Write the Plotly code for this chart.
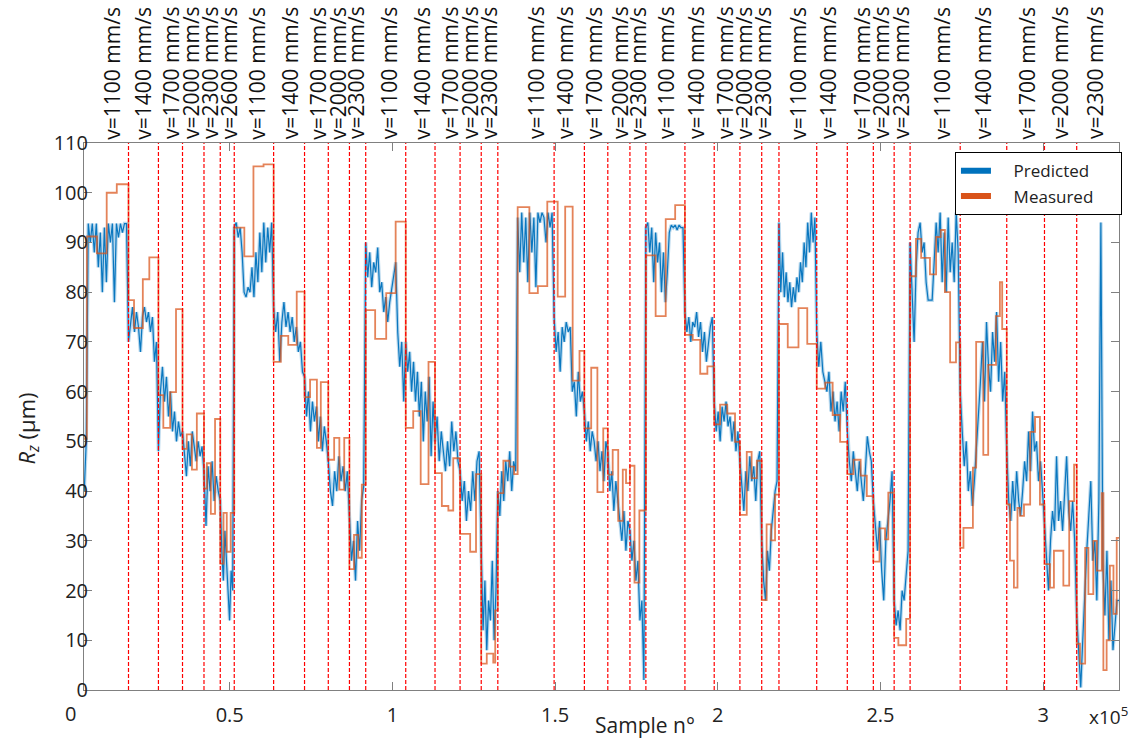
import numpy as np
import plotly.graph_objects as go

# ---------------- data (sample index, Rz in µm) ----------------
segment_edges = [5300, 18900, 28100, 35500, 42100, 47100, 51400, 63500, 73000, 80300, 86800,
                 91800, 104100, 113100, 120800, 127300, 132400, 138500, 149700, 159000, 166200,
                 173000, 177900, 189900, 198900, 206800, 213500, 218800, 230400, 239800, 247800,
                 254200, 259100, 274500, 288800, 300400, 310300, 323300]

speed_change_x = [18900, 28100, 35500, 42100, 47100, 51400, 63500, 73000, 80300, 86800, 91800,
                  104100, 113100, 120800, 127300, 132400, 149700, 159000, 166200, 173000, 177900,
                  189900, 198900, 206800, 213500, 218800, 230400, 239800, 247800, 254200, 259100,
                  274500, 288800, 300400, 310300]

speed_labels = (["v=1100 mm/s", "v=1400 mm/s", "v=1700 mm/s", "v=2000 mm/s", "v=2300 mm/s", "v=2600 mm/s"]
                + ["v=1100 mm/s", "v=1400 mm/s", "v=1700 mm/s", "v=2000 mm/s", "v=2300 mm/s"] * 6)
label_x = [13770, 23290, 31990, 38140, 43980, 49600, 58330, 68340, 77070, 83220, 88840,
           98770, 109030, 117730, 123870, 129500, 144150, 153070, 161760, 169970, 175410,
           184100, 193320, 202230, 207860, 214000, 224580, 233890, 244240, 250170, 256320,
           268830, 281610, 294950, 305180, 315940]

# Predicted Rz, values read along each segment
pred_group1 = [
    [40, 50, 93.8, 90, 93.8, 88, 93.8, 85, 92, 80, 93, 82, 93.8, 90, 93.8, 78, 93.8, 91, 93.8, 92, 93.8, 93.8],
    [70, 74, 77, 72, 76, 73, 68, 75, 77, 74, 76, 72, 75, 66, 70],
    [48, 60, 65, 58, 63, 55, 60, 52, 56, 50, 54, 51],
    [52, 48, 43, 50, 45, 52, 49, 46, 50, 47, 49],
    [44, 33, 45, 40, 46, 38, 43, 40],
    [38, 28, 22, 32, 26, 18, 14, 24, 20],
]
pred_group2 = [
    [93, 94, 91, 93, 88, 80, 79, 81, 80, 85, 79, 88, 82, 92, 84, 94, 86, 93, 88, 94],
    [77, 72, 76, 66, 74, 78, 73, 76, 72, 75, 70, 73, 68, 70, 64],
    [63, 55, 60, 52, 58, 54, 57, 50, 55, 48, 53, 50],
    [46, 40, 37, 44, 40, 47, 42, 45, 40, 44],
    [36, 26, 30, 22, 34, 28, 38, 41],
]
pred_group3 = [
    [90, 83, 88, 81, 86, 84, 89, 80, 82, 76, 79, 74, 78, 81, 84, 86, 72, 65, 70, 58],
    [70, 64, 68, 60, 66, 58, 64, 55, 62, 50, 60, 54, 63, 47, 58],
    [50, 55, 46, 52, 48, 44, 50, 45, 54, 48, 52, 46],
    [44, 38, 42, 34, 40, 36, 44, 38, 46, 48],
    [28, 12, 22, 8, 18, 14, 26, 10, 20],
]
pred_group4 = [
    [40, 35, 44, 38, 46, 42, 48, 40, 46, 44],
    [95, 84, 96, 86, 95, 82, 96, 88, 95, 81, 96, 94, 96, 95, 90, 96, 93, 96],
    [75, 68, 72, 64, 73, 70, 74, 72, 73, 60, 62, 55, 64, 58, 60],
    [56, 50, 54, 48, 52, 50, 46, 50, 44, 48, 42, 50],
    [48, 40, 44, 36, 42, 38, 34, 30, 36, 28, 34],
    [32, 26, 30, 22, 26, 14, 18, 2],
]
pred_group5 = [
    [93, 94, 88, 93, 82, 92, 86, 90, 80, 88, 78, 84, 92, 93.5, 93, 93.5, 92.5, 93.5, 93, 93],
    [76, 72, 75, 70, 74, 73, 76, 71, 74, 68, 72, 66, 70, 73, 75],
    [58, 52, 56, 50, 57, 54, 58, 53, 55, 50, 54, 48, 52],
    [46, 40, 36, 44, 40, 47, 42, 45, 38, 46, 48],
    [30, 22, 18, 28, 24, 32, 36, 40, 42],
]
pred_group6 = [
    [94, 80, 88, 79, 84, 78, 82, 77, 81, 78, 83, 80, 86, 82, 90, 85, 94, 88, 96, 90, 95],
    [72, 65, 70, 64, 62, 60, 64, 56, 60, 54, 58, 52, 60, 56, 62],
    [52, 46, 42, 48, 44, 40, 46, 42, 38, 44, 51, 48, 46],
    [38, 32, 28, 34, 24, 18, 30, 34, 38, 44],
    [18, 13, 16, 12, 20, 18, 24, 28],
]
pred_group7 = [
    [90, 80, 70, 85, 92, 94, 88, 90, 82, 78.4, 78.4, 78.4, 86, 94, 88, 96, 82, 92, 80, 95, 84, 90, 82, 96, 88],
    [60, 52, 45, 50, 40, 44, 37, 42, 48, 55, 62, 70, 58, 74, 65, 60, 72, 66, 76, 62, 70, 58, 64],
    [48, 38, 34, 42, 36, 44, 38, 35, 40, 46, 42, 52, 44, 56, 48, 50, 42, 46, 40],
    [34, 28, 20, 30, 36, 32, 47, 34, 38, 32, 40, 47, 36, 32, 38, 30],
    [15, 8, 0.5, 10, 20, 28, 35, 42, 26, 30, 18, 38, 94, 25, 15, 28, 10, 22, 8, 14, 18],
]

# Measured Rz: step starts (sample index) and values
measured_x = [5300, 6100, 9200, 12200, 15300,
              18900, 20600, 23300, 25300, 28100, 29600, 31700, 33500,
              35500, 36800, 38400, 39900, 42100, 43000, 44200, 45500,
              47100, 48100, 49100, 50300,
              51400, 54500, 57300, 60400, 63500, 65700, 68000, 70600,
              73000, 74700, 76800, 78000, 80300, 82100, 83700, 85200,
              86800, 88200, 89500, 90600,
              91800, 94700, 98100, 101000, 104100, 106400, 108700, 111100,
              113100, 115200, 117200, 118700, 120800, 123900, 125700,
              127300, 129000, 131000, 131600,
              132400, 134100, 136000, 137400, 138500, 142100, 144700, 147600,
              150800, 153100, 155400, 157500, 159000, 161100, 163000, 164800,
              166200, 167700, 169400, 170800, 171800, 173000, 174400, 175900,
              177900, 180900, 184000, 186900, 189900, 192300, 194600, 196800,
              198900, 200700, 202900, 205300, 206800, 208900, 210400, 212000,
              213500, 215000, 216400, 217600,
              218800, 221500, 224800, 227500, 230400, 233000, 235300, 237600,
              239800, 241700, 243900, 245800, 247800, 249700, 251400, 252400,
              254200, 255500, 257900,
              259100, 260900, 262500, 265200, 267100, 268500, 269800, 271400, 273200,
              274500, 275500, 278400, 279400, 281600, 283100, 285500, 286700, 287400,
              288800, 289800, 291000, 292100, 292900, 294100, 296000, 297500, 299000,
              300400, 302100, 303300, 306200, 308000, 309500,
              310300, 311300, 312900, 313900, 315400, 316500, 318000, 318500, 319500,
              320500, 321600, 322600, 323300]
measured_y = [50.5, 91.2, 87.8, 100.0, 101.7,
              78.4, 72.8, 82.6, 87.0, 59.3, 52.7, 59.9, 76.6,
              48.5, 51.4, 44.3, 55.6, 40.5, 45.6, 35.4, 54.5,
              25.4, 35.6, 27.8, 35.6,
              93.0, 87.2, 105.3, 105.7, 66.0, 71.2, 69.4, 80.1,
              58.9, 62.4, 48.7, 61.9, 46.3, 50.7, 40.3, 50.7,
              24.3, 31.2, 26.6, 41.3,
              76.4, 70.6, 79.8, 94.2, 52.7, 56.1, 41.4, 66.0,
              43.6, 37.0, 36.1, 46.6, 31.4, 27.8, 43.4,
              5.3, 7.3, 5.5, 16.0,
              39.6, 46.1, 44.9, 43.4, 97.1, 79.8, 81.2, 98.2,
              79.1, 97.2, 62.2, 68.2, 52.6, 64.8, 39.8, 52.6,
              43.3, 48.3, 34.0, 44.3, 41.6, 45.1, 21.6, 36.1,
              87.4, 75.2, 94.7, 97.5, 71.4, 70.4, 63.6, 65.1,
              53.4, 57.4, 55.6, 49.9, 35.2, 47.9, 42.6, 46.1,
              18.1, 33.3, 30.1, 39.3,
              73.6, 68.9, 76.8, 69.6, 60.6, 61.8, 55.3, 49.9,
              43.4, 46.3, 43.1, 39.0, 25.8, 32.5, 30.3, 39.7,
              10.5, 9.0, 14.3,
              83.2, 90.7, 86.9, 83.6, 91.1, 92.5, 80.0, 65.9, 69.9,
              28.6, 32.6, 44.7, 70.0, 47.3, 65.4, 75.2, 82.0, 72.6,
              37.3, 26.0, 20.6, 36.6, 35.0, 37.3, 51.9, 54.9, 37.3,
              25.3, 20.6, 28.0, 21.0, 38.0, 45.3,
              9.3, 5.3, 28.6, 19.3, 30.0, 24.0, 39.6, 4.0, 10.0,
              25.0, 15.3, 30.6, 30.6]

x_tick_vals = [50000, 100000, 150000, 200000, 250000, 300000]
x_tick_text = ["0.5", "1", "1.5", "2", "2.5", "3"]
y_tick_vals = [0, 10, 20, 30, 40, 50, 60, 70, 80, 90, 100, 110]

# ---------------- build predicted series ----------------
pred_segments = pred_group1 + pred_group2 + pred_group3 + pred_group4 + pred_group5 + pred_group6 + pred_group7
pred_x, pred_y = [], []
for i, vals in enumerate(pred_segments):
    xs = np.linspace(segment_edges[i], segment_edges[i + 1], len(vals), endpoint=False)
    pred_x.extend(xs.tolist())
    pred_y.extend(vals)
pred_x.append(segment_edges[-1])
pred_y.append(pred_segments[-1][-1])

FONT = "Open Sans"
BLUE = "#0072BD"
ORANGE = "#D95319"
NB = "\u00a0"

fig = go.Figure()
# light halo + core for the noisy predicted signal
fig.add_trace(go.Scatter(x=pred_x, y=pred_y, mode="lines",
                         line=dict(color="rgba(0,114,189,0.28)", width=3.5),
                         showlegend=False, hoverinfo="skip"))
fig.add_trace(go.Scatter(x=pred_x, y=pred_y, mode="lines",
                         line=dict(color="rgba(0,114,189,0.95)", width=1.2),
                         showlegend=False, hoverinfo="skip"))
fig.add_trace(go.Scatter(x=measured_x, y=measured_y, mode="lines", line_shape="hv",
                         line=dict(color="rgba(217,83,25,0.72)", width=1.8),
                         showlegend=False, hoverinfo="skip"))
# legend entries
fig.add_trace(go.Scatter(x=[None], y=[None], mode="lines", name=NB * 4 + "Predicted" + NB * 5,
                         line=dict(color=BLUE, width=6)))
fig.add_trace(go.Scatter(x=[None], y=[None], mode="lines", name=NB * 4 + "Measured" + NB * 5,
                         line=dict(color=ORANGE, width=6)))

shapes = []
for xv in speed_change_x:
    shapes.append(dict(type="line", xref="x", yref="y", x0=xv, x1=xv, y0=0, y1=110,
                       line=dict(color="red", width=1.2, dash="4px,2px"), layer="above"))

annotations = []
for xv, txt in zip(label_x, speed_labels):
    annotations.append(dict(x=xv, y=1.003, xref="x", yref="paper", text=txt, showarrow=False,
                            textangle=-90, xanchor="center", yanchor="bottom",
                            font=dict(family=FONT, size=21, color="#111")))
annotations += [
    dict(x=-0.0135, y=-0.043, xref="paper", yref="paper", text="0", showarrow=False,
         xanchor="center", yanchor="middle", font=dict(family=FONT, size=20, color="#222")),
    dict(x=0.542, y=-0.064, xref="paper", yref="paper", text="Sample n°", showarrow=False,
         xanchor="center", yanchor="middle", font=dict(family=FONT, size=21, color="#222")),
    dict(x=0.99, y=-0.047, xref="paper", yref="paper", text="x10<sup>5</sup>", showarrow=False,
         xanchor="center", yanchor="middle", font=dict(family=FONT, size=19, color="#222")),
    dict(x=-0.055, y=0.478, xref="paper", yref="paper", text="<i>R</i><sub><i>z</i></sub> (µm)",
         showarrow=False, textangle=-90, xanchor="center", yanchor="middle",
         font=dict(family=FONT, size=22, color="#222")),
]

fig.update_layout(
    width=1139, height=740,
    margin=dict(l=84, r=20, t=143, b=47),
    paper_bgcolor="white", plot_bgcolor="white",
    font=dict(family=FONT, size=20, color="#222"),
    shapes=shapes, annotations=annotations,
    legend=dict(x=0.8415, y=0.983, xanchor="left", yanchor="top",
                bordercolor="black", borderwidth=1, bgcolor="white",
                font=dict(family=FONT, size=17, color="#222"), tracegroupgap=0),
    xaxis=dict(range=[5225, 323300], tickvals=x_tick_vals, ticktext=x_tick_text,
               showgrid=False, zeroline=False, showline=True, linecolor="#808080", linewidth=1,
               mirror="ticks", ticks="inside", ticklen=8, tickcolor="#808080",
               ticklabelstandoff=7,
               tickfont=dict(family=FONT, size=20, color="#222")),
    yaxis=dict(range=[0, 110], tickvals=y_tick_vals,
               showgrid=False, zeroline=False, showline=True, linecolor="#808080", linewidth=1,
               mirror="ticks", ticks="inside", ticklen=8, tickcolor="#808080",
               ticklabelstandoff=-9,
               tickfont=dict(family=FONT, size=20, color="#222")),
)

fig.write_html("out.html", config={"displayModeBar": False},
               post_script="document.body.style.margin='0';")
